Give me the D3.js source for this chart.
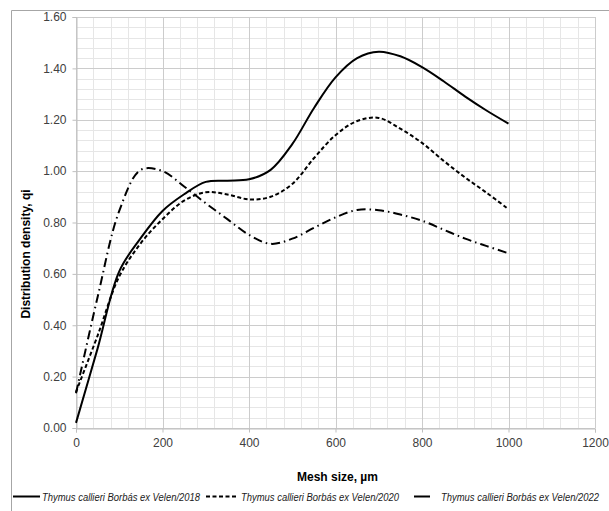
<!DOCTYPE html>
<html>
<head>
<meta charset="utf-8">
<script src="https://cdn.jsdelivr.net/npm/d3@7"></script>
<style>
  body { margin: 0; background: #fff; }
  svg { display: block; font-family: "Liberation Sans", Arial, sans-serif; }
</style>
</head>
<body>
<div id="chart"></div>
<script>
// mesh size, µm
const meshSize = [0, 50, 100, 150, 200, 250, 300, 350, 400, 450, 500, 550, 600, 650, 700, 750, 800, 850, 900, 950, 1000];
const q2018 = [0.02, 0.31, 0.61, 0.74, 0.845, 0.91, 0.958, 0.963, 0.968, 1.005, 1.105, 1.245, 1.365, 1.44, 1.465, 1.447, 1.405, 1.35, 1.29, 1.235, 1.185];
const q2020 = [0.14, 0.36, 0.59, 0.72, 0.813, 0.885, 0.918, 0.909, 0.89, 0.90, 0.95, 1.05, 1.14, 1.195, 1.207, 1.165, 1.11, 1.04, 0.975, 0.915, 0.852];
const q2022 = [0.135, 0.51, 0.845, 1.005, 1.0, 0.94, 0.875, 0.813, 0.752, 0.717, 0.737, 0.779, 0.82, 0.849, 0.848, 0.831, 0.807, 0.772, 0.737, 0.708, 0.68];
const seriesNames = [
  "Thymus callieri Borbás ex Velen/2018",
  "Thymus callieri Borbás ex Velen/2020",
  "Thymus callieri Borbás ex Velen/2022"
];
const xTicks = [0, 200, 400, 600, 800, 1000, 1200];
const yTicks = [0, 0.2, 0.4, 0.6, 0.8, 1.0, 1.2, 1.4, 1.6];

const width = 609, height = 511;
const margin = { top: 17, right: 14, bottom: 83, left: 76 };

const x = d3.scaleLinear().domain([0, 1200]).range([margin.left, width - margin.right]);
const y = d3.scaleLinear().domain([0, 1.6]).range([height - margin.bottom, margin.top]);

const svg = d3.select("#chart").append("svg")
  .attr("width", width)
  .attr("height", height);

// outer frame (cropped)
svg.append("path")
  .attr("d", `M11.5,${height} V10.5 H${width}`)
  .attr("fill", "none")
  .attr("stroke", "#a6a6a6");

// minor grid
const minorX = d3.range(0, 1200.1, 40);
const minorY = d3.range(0, 1.601, 0.04);
const grid = svg.append("g");
grid.selectAll(".mx").data(minorX).join("line")
  .attr("x1", d => Math.round(x(d)) + 0.5).attr("x2", d => Math.round(x(d)) + 0.5)
  .attr("y1", y(0)).attr("y2", y(1.6))
  .attr("stroke", "#e6e6e6");
grid.selectAll(".my").data(minorY).join("line")
  .attr("y1", d => Math.round(y(d)) + 0.5).attr("y2", d => Math.round(y(d)) + 0.5)
  .attr("x1", x(0)).attr("x2", x(1200))
  .attr("stroke", "#e6e6e6");

// major grid
grid.selectAll(".Mx").data(xTicks).join("line")
  .attr("x1", d => Math.round(x(d)) + 0.5).attr("x2", d => Math.round(x(d)) + 0.5)
  .attr("y1", y(0)).attr("y2", y(1.6))
  .attr("stroke", "#cccccc");
grid.selectAll(".My").data(yTicks).join("line")
  .attr("y1", d => Math.round(y(d)) + 0.5).attr("y2", d => Math.round(y(d)) + 0.5)
  .attr("x1", x(0)).attr("x2", x(1200))
  .attr("stroke", "#cccccc");

// axes
const xAxis = svg.append("g")
  .attr("transform", `translate(0,${Math.round(y(0)) + 0.5})`)
  .call(d3.axisBottom(x).tickValues(xTicks).tickSize(4).tickPadding(6).tickFormat(d3.format("d")));
const yAxis = svg.append("g")
  .attr("transform", `translate(${Math.round(x(0)) + 0.5},0)`)
  .call(d3.axisLeft(y).tickValues(yTicks).tickSize(4).tickPadding(6).tickFormat(d3.format(".2f")));
[xAxis, yAxis].forEach(a => {
  a.select(".domain").attr("stroke", "#bfbfbf");
  a.selectAll(".tick line").attr("stroke", "#bfbfbf");
  a.selectAll(".tick text")
    .attr("fill", "#404040")
    .style("font-size", "12px")
    .style("font-family", "'Liberation Sans', Arial, sans-serif");
});

// axis titles
svg.append("text")
  .attr("x", (x(0) + x(1200)) / 2 + 2)
  .attr("y", 481)
  .attr("text-anchor", "middle")
  .style("font-size", "12px")
  .style("font-weight", "bold")
  .text("Mesh size, µm");
svg.append("text")
  .attr("transform", "translate(30,254) rotate(-90)")
  .attr("text-anchor", "middle")
  .style("font-size", "12px")
  .style("font-weight", "bold")
  .text("Distribution density, qi");

// lines
const dashes = [null, "4,2.5", "9,4,1.5,4"];
const allSeries = [q2018, q2020, q2022];
const line = d3.line()
  .x((d, i) => x(meshSize[i]))
  .y(d => y(d))
  .curve(d3.curveCatmullRom.alpha(0.5));

svg.append("g").selectAll("path")
  .data(allSeries)
  .join("path")
  .attr("d", d => line(d))
  .attr("fill", "none")
  .attr("stroke", "#000")
  .attr("stroke-width", 2)
  .attr("stroke-dasharray", (d, i) => dashes[i]);

// legend
const legendItems = [
  { x1: 13, x2: 40, tx: 42 },
  { x1: 206, x2: 238, tx: 241 },
  { x1: 414, x2: 430, tx: 441 }
];
const legend = svg.append("g").selectAll("g")
  .data(legendItems)
  .join("g");
legend.append("line")
  .attr("x1", d => d.x1).attr("x2", d => d.x2)
  .attr("y1", 496.5).attr("y2", 496.5)
  .attr("stroke", "#000")
  .attr("stroke-width", 2)
  .attr("stroke-dasharray", (d, i) => i === 1 ? "4,2.5" : null);
legend.append("text")
  .attr("x", d => d.tx)
  .attr("y", 500.5)
  .attr("textLength", 158)
  .attr("lengthAdjust", "spacingAndGlyphs")
  .style("font-size", "11px")
  .style("font-style", "italic")
  .attr("fill", "#1a1a1a")
  .text((d, i) => seriesNames[i]);
</script>
</body>
</html>
